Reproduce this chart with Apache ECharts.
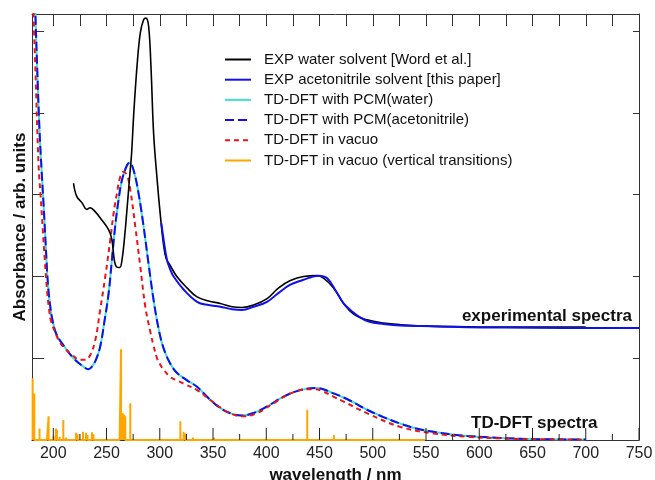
<!DOCTYPE html>
<html>
<head>
<meta charset="utf-8">
<title>Absorption spectra</title>
<script src="https://cdn.jsdelivr.net/npm/echarts@6/dist/echarts.min.js"></script>
<style>
  html, body { margin: 0; padding: 0; background: #fff; }
  #chart { width: 655px; height: 480px; }
</style>
</head>
<body>
<div id="chart"></div>
<script>
// axis ticks (nm)
var majorTicks = [200, 250, 300, 350, 400, 450, 500, 550, 600, 650, 700, 750];
var minorTicks = [225, 275, 325, 375, 425, 475, 525, 575, 625, 675, 725];
var topTicks = [200, 225, 250, 275, 300, 325, 350, 375, 400, 425, 450, 475, 500, 525, 550, 575, 600, 625, 650, 675, 700, 725];
var yTicks = [0, 1, 2, 3, 4, 5];

// EXP water solvent [Word et al.]
var expWater = [[219, 3.14], [222, 2.98], [227, 2.90], [231.5, 2.82], [234.5, 2.84], [239.5, 2.79], [245.5, 2.69],
  [252, 2.57], [255, 2.45], [257.3, 2.2], [259.2, 2.12], [262.3, 2.11], [264.5, 2.2], [267, 2.49], [269.2, 2.82],
  [271.7, 3.22], [273.5, 3.5], [275.4, 3.96], [278.6, 4.57], [281.7, 4.98], [284.8, 5.14], [287, 5.16], [289.5, 5.06],
  [291.7, 4.57], [294.2, 3.75], [297.4, 3.2], [300.5, 2.75], [303.6, 2.38], [306, 2.22], [309.5, 2.14], [316, 2.0],
  [325.6, 1.86], [335, 1.75], [345.8, 1.70], [356.8, 1.67], [367.8, 1.63], [377.2, 1.62], [388, 1.65], [400.7, 1.73],
  [411.6, 1.86], [422.6, 1.95], [435, 2.0], [447.6, 2.01], [453.8, 1.98], [463.2, 1.86], [472.6, 1.67], [482, 1.54],
  [494.6, 1.47], [510, 1.43], [526, 1.41], [557, 1.39], [588.5, 1.385], [620, 1.38], [660, 1.38], [700, 1.38]];

// EXP acetonitrile solvent [this paper]
var expAcn = [[301.5, 2.65], [303.6, 2.45], [306.8, 2.2], [310, 2.08], [313, 2.0], [322.4, 1.84], [335, 1.69],
  [345.8, 1.65], [356.8, 1.63], [367.8, 1.60], [377.2, 1.59], [388, 1.63], [400.7, 1.69], [411.6, 1.80], [422.6, 1.90],
  [435, 1.96], [442, 1.99], [449, 2.01], [457, 1.98], [466.4, 1.80], [472.6, 1.67], [479, 1.59], [488, 1.50],
  [496, 1.45], [510, 1.42], [526, 1.40], [557, 1.39], [588.5, 1.38], [620, 1.375], [680, 1.37], [750, 1.37]];

// TD-DFT with PCM(water)
var pcmWater = [[181, 6.3], [183, 5.3], [185, 4.5], [187, 3.8], [189, 3.3], [191, 2.85], [193, 2.35], [195, 1.9],
  [197, 1.65], [199, 1.48], [203, 1.29], [210, 1.15], [219, 1.0], [228, 0.9], [233, 0.865], [236.5, 0.9], [240, 0.98],
  [244, 1.14], [248, 1.45], [252, 1.8], [255, 2.2], [258, 2.6], [261.3, 2.94], [264.5, 3.18], [269.2, 3.36],
  [271.7, 3.39], [275.4, 3.30], [280, 3.02], [284.8, 2.61], [289.5, 2.15], [294.2, 1.71], [298.9, 1.36], [303.6, 1.12],
  [310, 0.93], [316.2, 0.82], [325.6, 0.73], [335, 0.65], [345.8, 0.51], [356.8, 0.39], [367.8, 0.32], [377.2, 0.30],
  [388, 0.33], [400.7, 0.41], [416.3, 0.53], [432, 0.61], [447, 0.635], [463.2, 0.57], [479, 0.48], [494.6, 0.37],
  [510, 0.28], [526, 0.20], [541, 0.14], [557, 0.10], [573, 0.07], [588.5, 0.05], [620, 0.025], [650, 0.012], [700, 0.005]];

// TD-DFT with PCM(acetonitrile)
var pcmAcn = [[181, 6.3], [183, 5.3], [185, 4.5], [187, 3.8], [189, 3.3], [191, 2.85], [193, 2.35], [195, 1.9],
  [197, 1.65], [199, 1.48], [203, 1.29], [210, 1.15], [219, 1.0], [228, 0.9], [233, 0.865], [236.5, 0.9], [240, 0.98],
  [244, 1.14], [248, 1.45], [252, 1.8], [255, 2.2], [258, 2.6], [261.3, 2.94], [264.5, 3.18], [269.2, 3.36],
  [271.7, 3.39], [275.4, 3.30], [280, 3.02], [284.8, 2.61], [289.5, 2.15], [294.2, 1.71], [298.9, 1.36], [303.6, 1.12],
  [310, 0.93], [316.2, 0.82], [325.6, 0.73], [335, 0.65], [345.8, 0.51], [356.8, 0.39], [367.8, 0.32], [377.2, 0.30],
  [388, 0.33], [400.7, 0.41], [416.3, 0.53], [432, 0.61], [447, 0.635], [463.2, 0.57], [479, 0.48], [494.6, 0.37],
  [510, 0.28], [526, 0.20], [541, 0.14], [557, 0.10], [573, 0.07], [588.5, 0.05], [620, 0.025], [650, 0.012], [700, 0.005]];

// TD-DFT in vacuo
var vacuo = [[181, 6.0], [181.5, 5.22], [183.1, 4.57], [186.2, 3.35], [188, 3.0], [190, 2.6], [192, 2.2], [194, 1.85],
  [196, 1.6], [198, 1.45], [202, 1.31], [205, 1.22], [210, 1.13], [216, 1.06], [225.4, 0.98], [230, 0.98],
  [234.7, 1.04], [239.4, 1.22], [244, 1.59], [248.8, 2.0], [253.5, 2.45], [256.6, 2.77], [259.8, 3.02], [262.9, 3.22],
  [266, 3.28], [269.2, 3.24], [272.3, 3.06], [277, 2.61], [281.7, 2.12], [286.4, 1.63], [291, 1.33], [294.2, 1.15],
  [297.4, 1.0], [300.5, 0.92], [303.6, 0.86], [309.9, 0.77], [317.7, 0.72], [322.4, 0.69], [335, 0.61], [347.4, 0.49],
  [360, 0.37], [369.3, 0.31], [378.7, 0.29], [391.3, 0.33], [407, 0.45], [422.6, 0.57], [438.2, 0.62], [446, 0.62],
  [453.8, 0.59], [463, 0.53], [472.6, 0.47], [496, 0.32], [526, 0.16], [557, 0.08], [588.5, 0.04], [620, 0.02],
  [650, 0.01], [700, 0.004]];

// TD-DFT in vacuo (vertical transitions): [nm, strength]
var sticks = [[180.6, 0.755], [182.2, 0.57], [187.1, 0.14], [190.3, 0.02], [194, 0.02], [195.6, 0.29], [200.3, 0.05],
  [202.5, 0.14], [203.5, 0.12], [206, 0.04], [209.4, 0.245], [212, 0.03], [214.4, 0.02], [221.3, 0.09], [222.8, 0.07],
  [227.9, 0.10], [230.7, 0.09], [232.2, 0.06], [236.3, 0.095], [237.8, 0.07], [242, 0.02], [262.3, 0.03], [263.6, 1.11],
  [265, 0.33], [266.7, 0.31], [267.6, 0.29], [272.3, 0.45], [314.6, 0.01], [319.3, 0.23], [322.4, 0.10], [324, 0.08],
  [331.2, 0.03], [335.9, 0.02], [351.2, 0.03], [371.5, 0.01], [438.5, 0.37], [463.5, 0.06], [549, 0.005]];

// impulses: go up and back down at every transition
var stickLine = [];
sticks.forEach(function (s) {
  stickLine.push([s[0], 0], [s[0], s[1]], [s[0], 0]);
});

var font = 'Liberation Sans, Arial, Helvetica, sans-serif';
var axisColor = '#333';

var labels = [
  {
    id: 'expLabel', type: 'text', right: 23, top: 308,
    style: { text: 'experimental spectra', font: 'bold 17px ' + font, fill: '#111' }
  },
  {
    id: 'tdLabel', type: 'text', left: 471, top: 415,
    style: { text: 'TD-DFT spectra', font: 'bold 17px ' + font, fill: '#111' }
  }
];

var myChart = echarts.init(document.getElementById('chart'));
var option = {
  animation: false,
  textStyle: { fontFamily: font },
  grid: { left: 32, right: 16, top: 14, bottom: 40, containLabel: false, outerBoundsMode: 'none' },
  legend: {
    orient: 'vertical',
    left: 219,
    top: 47,
    itemWidth: 26,
    itemHeight: 14,
    itemGap: 5.2,
    itemStyle: { opacity: 0 },
    textStyle: { fontSize: 15, color: '#111', fontFamily: font, padding: [0, 0, 0, 8] },
    data: ['EXP water solvent [Word et al.]', 'EXP acetonitrile solvent [this paper]',
      'TD-DFT with PCM(water)', 'TD-DFT with PCM(acetonitrile)', 'TD-DFT in vacuo',
      'TD-DFT in vacuo (vertical transitions)']
  },
  xAxis: [
    {
      type: 'value', min: 180, max: 750, position: 'bottom',
      name: 'wavelength / nm', nameLocation: 'middle', nameGap: 22,
      nameTextStyle: { fontSize: 17, fontWeight: 'bold', color: '#111' },
      axisLine: { show: true, onZero: false, lineStyle: { color: axisColor } },
      axisTick: { show: false },
      axisLabel: { customValues: majorTicks, fontSize: 16, color: '#222', margin: 6 },
      splitLine: { show: false }
    },
    {
      type: 'value', min: 180, max: 750, position: 'top',
      axisLine: { show: true, onZero: false, lineStyle: { color: axisColor } },
      axisTick: { show: true, inside: true, length: 12, customValues: topTicks, lineStyle: { color: axisColor } },
      axisLabel: { show: false },
      splitLine: { show: false }
    }
  ],
  yAxis: [
    {
      type: 'value', min: 0, max: 5.21, position: 'left',
      name: 'Absorbance / arb. units', nameLocation: 'middle', nameGap: 3, nameRotate: 90,
      nameTextStyle: { fontSize: 17, fontWeight: 'bold', color: '#111' },
      axisLine: { show: true, onZero: false, lineStyle: { color: axisColor } },
      axisTick: { show: true, inside: true, length: 12, customValues: yTicks, lineStyle: { color: axisColor } },
      axisLabel: { show: false },
      splitLine: { show: false }
    },
    {
      type: 'value', min: 0, max: 5.21, position: 'right',
      axisLine: { show: true, onZero: false, lineStyle: { color: axisColor } },
      axisTick: { show: true, inside: true, length: 6, customValues: yTicks, lineStyle: { color: axisColor } },
      axisLabel: { show: false },
      splitLine: { show: false }
    }
  ],
  series: [
    {
      name: 'TD-DFT in vacuo (vertical transitions)', type: 'line', data: stickLine,
      symbol: 'none', color: '#ffa500', lineStyle: { width: 2, color: '#ffa500' }, z: 1
    },
    {
      name: 'TD-DFT with PCM(water)', type: 'line', data: pcmWater, smooth: 0.4,
      symbol: 'none', color: '#40e0d0', lineStyle: { width: 2, color: '#40e0d0' }
    },
    {
      name: 'TD-DFT with PCM(acetonitrile)', type: 'line', data: pcmAcn, smooth: 0.4,
      symbol: 'none', color: '#1010ee', lineStyle: { width: 2, color: '#1010ee', type: [9, 4] }
    },
    {
      name: 'TD-DFT in vacuo', type: 'line', data: vacuo, smooth: 0.4,
      symbol: 'none', color: '#e8151b', lineStyle: { width: 2, color: '#e8151b', type: [5, 4] }
    },
    {
      name: 'EXP water solvent [Word et al.]', type: 'line', data: expWater, smooth: 0.4,
      symbol: 'none', color: '#000', lineStyle: { width: 1.6, color: '#000' }
    },
    {
      name: 'EXP acetonitrile solvent [this paper]', type: 'line', data: expAcn, smooth: 0.4,
      symbol: 'none', color: '#1010ee', lineStyle: { width: 2, color: '#1010ee' }
    }
  ],
  graphic: labels
};
option && myChart.setOption(option);

// bottom frame ticks, placed through the x axis scale
var tickMarks = [];
majorTicks.forEach(function (v) { tickMarks.push([v, 12]); });
minorTicks.forEach(function (v) { tickMarks.push([v, 6]); });
var tickGraphics = tickMarks.map(function (t, i) {
  var p = myChart.convertToPixel({ xAxisIndex: 0, yAxisIndex: 0 }, [t[0], 0]);
  return {
    id: 'btick' + i, type: 'line', z: 100, silent: true,
    shape: { x1: p[0], y1: p[1], x2: p[0], y2: p[1] - t[1] },
    style: { stroke: '#222', lineWidth: 1 }
  };
});
myChart.setOption({ graphic: labels.concat(tickGraphics) });
</script>
</body>
</html>
